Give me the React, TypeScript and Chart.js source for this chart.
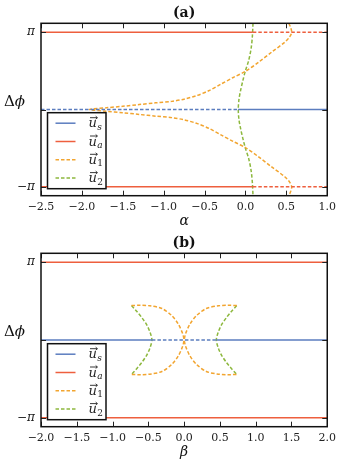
import React, { useEffect, useRef } from 'react';
import { Chart, registerables } from 'chart.js';

Chart.register(...registerables);

// ---------- Panel (a) data ----------
const A_X_TICKS_MIN = -2.5;
const A_X_TICKS_MAX = 1.0;
const A_US_X = [-2.5, -0.09, 1.0];            // dashed then solid
const A_UA_X = [-2.5, 0.09, 1.0];             // solid then dashed
const A_U1_ALPHA = [0.53, 0.55, 0.565, 0.54, 0.48, 0.32, 0.16, 0.0, -0.15, -0.3, -0.45, -0.6, -0.75, -0.9, -1.1, -1.3, -1.5, -1.7, -1.91,
  -1.7, -1.5, -1.3, -1.1, -0.9, -0.75, -0.6, -0.45, -0.3, -0.15, 0.0, 0.16, 0.32, 0.48, 0.54, 0.565, 0.55, 0.53];
const A_U1_PHI = [3.5, 3.35, 3.14, 2.95, 2.73, 2.33, 1.92, 1.55, 1.3, 1.03, 0.76, 0.56, 0.42, 0.33, 0.27, 0.2, 0.13, 0.07, 0.0,
  -0.07, -0.13, -0.2, -0.27, -0.33, -0.42, -0.56, -0.76, -1.03, -1.3, -1.55, -1.92, -2.33, -2.73, -2.95, -3.14, -3.35, -3.5];
const A_U2_ALPHA = [0.092, 0.085, 0.07, 0.04, 0.0, -0.03, -0.06, -0.08, -0.088, -0.08, -0.06, -0.03, 0.0, 0.04, 0.07, 0.085, 0.092];
const A_U2_PHI = [3.5, 3.0, 2.5, 2.0, 1.58, 1.2, 0.77, 0.4, 0.0, -0.4, -0.77, -1.2, -1.58, -2.0, -2.5, -3.0, -3.5];

// ---------- Panel (b) data ----------
const B_X_TICKS_MIN = -2.0;
const B_X_TICKS_MAX = 2.0;
const B_US_X = [-2.0, -0.45, 0.45, 2.0];      // solid, dashed, solid
const B_UA_X = [-2.0, 2.0];
const B_U1A_BETA = [-0.735, -0.62, -0.48, -0.31, -0.175, -0.083, -0.02, 0.0, 0.02, 0.083, 0.175, 0.31, 0.48, 0.62, 0.735];
const B_U1B_BETA = [0.735, 0.62, 0.48, 0.31, 0.175, 0.083, 0.02, 0.0, -0.02, -0.083, -0.175, -0.31, -0.48, -0.62, -0.735];
const B_U1_PHI = [1.39, 1.4, 1.38, 1.27, 0.99, 0.65, 0.25, 0.0, -0.25, -0.65, -0.99, -1.27, -1.38, -1.4, -1.39];
const B_U2L_BETA = [-0.735, -0.66, -0.59, -0.52, -0.475, -0.45, -0.475, -0.52, -0.59, -0.66, -0.735];
const B_U2R_BETA = [0.735, 0.66, 0.59, 0.52, 0.475, 0.45, 0.475, 0.52, 0.59, 0.66, 0.735];
const B_U2_PHI = [1.39, 1.15, 0.9, 0.6, 0.3, 0.0, -0.3, -0.6, -0.9, -1.15, -1.39];

const Y_TICKS = [-Math.PI, 0, Math.PI];
const Y_TICK_LABELS = ['−π', '', 'π'];
const LEGEND_SUBS = ['s', 'a', '1', '2'];

// ---------- styles ----------
const BLUE = '#5b7dbf';
const RED = '#ee5f3e';
const ORANGE = '#f2a530';
const GREEN = '#8db83e';
const COLORS = [BLUE, RED, ORANGE, GREEN];
const LEGEND_DASHED = [false, false, true, true];
const DASH = [3.5, 2];

const pts = (xs: number[], ys: number[]) => xs.map((x, i) => ({ x, y: ys[i] }));
const constLine = (xs: number[], v: number) => xs.map((x) => ({ x, y: v }));

function lineDs(data: any[], color: string, dashedSegs: number[] | 'all', tension = 0) {
  return {
    data,
    showLine: true,
    borderColor: color,
    backgroundColor: color,
    borderWidth: 1.5,
    pointRadius: 0,
    fill: false,
    tension,
    borderDash: dashedSegs === 'all' ? DASH : [],
    segment: dashedSegs === 'all' ? undefined : {
      borderDash: (c: any) => (dashedSegs.includes(c.p0DataIndex) ? DASH : undefined),
    },
  };
}

const decorPlugin = {
  id: 'decor',
  afterDraw(chart: any, _args: any, opts: any) {
    const { ctx, chartArea: ca, scales } = chart;
    const xs = scales.x;
    const ys = scales.y;
    ctx.save();
    const line = (x1: number, y1: number, x2: number, y2: number) => {
      ctx.beginPath(); ctx.moveTo(x1, y1); ctx.lineTo(x2, y2); ctx.stroke();
    };
    // inward ticks
    ctx.strokeStyle = '#222';
    ctx.lineWidth = 1;
    ctx.setLineDash([]);
    xs.ticks.forEach((t: any) => {
      const px = Math.round(xs.getPixelForValue(t.value)) + 0.5;
      line(px, ca.bottom, px, ca.bottom - 5);
      line(px, ca.top, px, ca.top + 5);
    });
    ys.ticks.forEach((t: any) => {
      const py = Math.round(ys.getPixelForValue(t.value)) + 0.5;
      line(ca.left, py, ca.left + 5, py);
      line(ca.right, py, ca.right - 5, py);
    });
    // axes frame
    ctx.strokeStyle = '#111';
    ctx.lineWidth = 1.5;
    ctx.strokeRect(ca.left, ca.top, ca.right - ca.left, ca.bottom - ca.top);

    const cx = (ca.left + ca.right) / 2;
    ctx.fillStyle = '#111';
    ctx.textAlign = 'center';
    ctx.textBaseline = 'alphabetic';
    ctx.font = 'bold 14px "DejaVu Serif"';
    ctx.fillText(opts.title, cx, ca.top - 6);
    ctx.font = 'italic 14px "DejaVu Serif"';
    ctx.fillText(opts.xLabel, cx, ca.bottom + 29);

    // y label Δϕ
    ctx.textAlign = 'left';
    ctx.font = '15px "DejaVu Serif"';
    const yb = ca.top + 82.7;
    ctx.fillText('Δ', 4, yb);
    const dw = ctx.measureText('Δ').width;
    ctx.font = 'italic 15px "DejaVu Serif"';
    ctx.fillText('ϕ', 4 + dw, yb);

    // legend
    const lx = ca.left + 6.5;
    const lh = 76;
    const lw = 58.5;
    const ly = ca.bottom - 7 - lh;
    ctx.fillStyle = '#fff';
    ctx.fillRect(lx, ly, lw, lh);
    ctx.strokeStyle = '#111';
    ctx.lineWidth = 1.5;
    ctx.strokeRect(lx, ly, lw, lh);
    LEGEND_SUBS.forEach((sub, i) => {
      const ry = ly + 10.5 + i * 18.3;
      ctx.strokeStyle = COLORS[i];
      ctx.lineWidth = 1.5;
      ctx.setLineDash(LEGEND_DASHED[i] ? DASH : []);
      line(lx + 8, ry, lx + 28, ry);
      ctx.setLineDash([]);
      // text: vector u with subscript
      const tx = lx + 41;
      const bl = ry + 4;
      ctx.fillStyle = '#222';
      ctx.font = 'italic 13px "DejaVu Serif"';
      ctx.fillText('u', tx, bl);
      const uw = ctx.measureText('u').width;
      // arrow over u
      ctx.strokeStyle = '#222';
      ctx.lineWidth = 0.9;
      const ay = bl - 9.5;
      line(tx + 1.5, ay, tx + uw + 0.5, ay);
      line(tx + uw + 0.5, ay, tx + uw - 1.2, ay - 1.5);
      line(tx + uw + 0.5, ay, tx + uw - 1.2, ay + 1.5);
      ctx.font = (sub === 's' || sub === 'a' ? 'italic ' : '') + '9px "DejaVu Serif"';
      ctx.fillText(sub, tx + uw + 0.5, bl + 2.5);
    });
    ctx.restore();
  },
};

function makeConfig(datasets: any[], xmin: number, xmax: number, title: string, xLabel: string) {
  return {
    type: 'scatter',
    data: { datasets },
    plugins: [decorPlugin],
    options: {
      responsive: false,
      animation: false,
      events: [],
      layout: { padding: { top: 23.3, right: 10, left: 0, bottom: 0 } },
      plugins: {
        legend: { display: false },
        tooltip: { enabled: false },
        decor: { title, xLabel },
      },
      scales: {
        x: {
          type: 'linear',
          min: xmin,
          max: xmax,
          grid: { display: false, drawTicks: false, tickLength: 0 },
          border: { display: false },
          ticks: {
            stepSize: 0.5,
            padding: 5,
            color: '#222',
            font: { family: 'DejaVu Serif', size: 11 },
            maxRotation: 0,
            autoSkip: false,
            callback: (v: number) => Number(v).toFixed(1).replace('-', '−'),
          },
          afterFit: (s: any) => { s.height = 35.3; },
        },
        y: {
          type: 'linear',
          min: -3.5,
          max: 3.5,
          grid: { display: false, drawTicks: false, tickLength: 0 },
          border: { display: false },
          afterBuildTicks: (s: any) => { s.ticks = Y_TICKS.map((v) => ({ value: v })); },
          ticks: {
            padding: 6,
            color: '#222',
            font: { family: 'DejaVu Serif', size: 12, style: 'italic' },
            callback: (v: number) => {
              const i = Y_TICKS.findIndex((t) => Math.abs(t - v) < 1e-6);
              return i >= 0 ? Y_TICK_LABELS[i] : '';
            },
          },
          afterFit: (s: any) => { s.width = 41; },
        },
      },
    },
  };
}

function panelA() {
  return [
    lineDs(constLine(A_US_X, 0), BLUE, [0]),
    lineDs(constLine(A_UA_X, Math.PI), RED, [1]),
    lineDs(constLine(A_UA_X, -Math.PI), RED, [1]),
    lineDs(pts(A_U1_ALPHA, A_U1_PHI), ORANGE, 'all', 0.3),
    lineDs(pts(A_U2_ALPHA, A_U2_PHI), GREEN, 'all', 0.3),
  ];
}

function panelB() {
  return [
    lineDs(constLine(B_US_X, 0), BLUE, [1]),
    lineDs(constLine(B_UA_X, Math.PI), RED, []),
    lineDs(constLine(B_UA_X, -Math.PI), RED, []),
    lineDs(pts(B_U1A_BETA, B_U1_PHI), ORANGE, 'all', 0.3),
    lineDs(pts(B_U1B_BETA, B_U1_PHI), ORANGE, 'all', 0.3),
    lineDs(pts(B_U2L_BETA, B_U2_PHI), GREEN, 'all', 0.3),
    lineDs(pts(B_U2R_BETA, B_U2_PHI), GREEN, 'all', 0.3),
  ];
}

function Panel({ which, top, height }: { which: 'a' | 'b'; top: number; height: number }) {
  const ref = useRef<HTMLCanvasElement>(null);
  useEffect(() => {
    if (!ref.current) return;
    const cfg = which === 'a'
      ? makeConfig(panelA(), A_X_TICKS_MIN, A_X_TICKS_MAX, '(a)', 'α')
      : makeConfig(panelB(), B_X_TICKS_MIN, B_X_TICKS_MAX, '(b)', 'β');
    const chart = new Chart(ref.current, cfg as any);
    return () => chart.destroy();
  }, [which]);
  return (
    <canvas
      ref={ref}
      width={341}
      height={height}
      style={{ position: 'absolute', left: 0, top, width: 341, height }}
    />
  );
}

export default function App() {
  useEffect(() => {
    document.body.style.margin = '0';
  }, []);
  return (
    <div style={{ position: 'relative', width: 341, height: 463, background: '#fff' }}>
      <Panel which="a" top={0} height={231} />
      <Panel which="b" top={230} height={232} />
    </div>
  );
}
